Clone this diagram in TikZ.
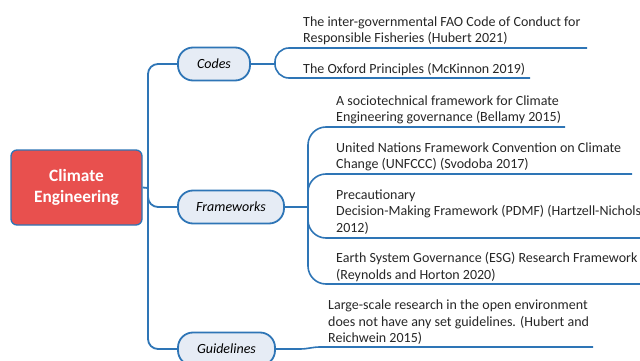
\documentclass[tikz,border=0pt]{standalone}
\usepackage{fontspec}
\setmainfont{Carlito}
\definecolor{lineblue}{HTML}{2E75B6}
\definecolor{nodefill}{HTML}{E6ECF5}
\definecolor{cered}{HTML}{E8504E}
\begin{document}
\begin{tikzpicture}[x=1pt,y=-1pt,
  conn/.style={draw=lineblue,line width=1.8pt},
  branch/.style={draw=lineblue,line width=1.6pt,rounded corners=18pt},
  catbox/.style={draw=lineblue,line width=1.8pt,fill=nodefill,rounded corners=15pt,
    minimum height=33pt,inner sep=0pt,font=\fontsize{14}{16}\selectfont\itshape},
  leaf/.style={anchor=north west,inner sep=0pt,align=left,text=black!85,
    font=\fontsize{14}{16.5}\selectfont}]
\useasboundingbox (0,0) rectangle (640,361);
\node[draw=lineblue,line width=1.3pt,fill=cered,rounded corners=6pt,
  minimum width=131pt,minimum height=75pt,align=center,text=white,
  font=\fontsize{17.3}{21.5}\selectfont\bfseries] (ce) at (76.5,187.5) {Climate\\Engineering};
\node[catbox,minimum width=72pt] (codes) at (214,64) {Codes};
\node[catbox,minimum width=106pt] (fw) at (231,207) {Frameworks};
\node[catbox,minimum width=97pt] (gl) at (226.5,349) {Guidelines};
\coordinate (trunk) at (148,188);
\draw[conn] (ce.east) -- (trunk);
\draw[conn,rounded corners=10pt] (trunk) |- (codes.west);
\draw[conn,rounded corners=10pt] (trunk) |- (fw.west);
\draw[conn,rounded corners=10pt] (trunk) |- (gl.west);
% codes branches
\coordinate (cf) at (275,64);
\draw[conn] (codes.east) -- (cf);
\coordinate (c1e) at (587,48);
\coordinate (c2e) at (530,78);
\draw[branch,rounded corners=14pt] (cf) |- (c1e);
\draw[branch,rounded corners=14pt] (cf) |- (c2e);
\node[leaf] (c1) at (303,16.5) {The inter-governmental FAO Code of Conduct for\\Responsible Fisheries (Hubert 2021)};
\node[leaf] (c2) at (303,63.5) {The Oxford Principles (McKinnon 2019)};
% frameworks branches
\coordinate (ff) at (308,207);
\draw[conn] (fw.east) -- (ff);
\coordinate (f1e) at (565,127);
\coordinate (f2e) at (632,174);
\coordinate (f3e) at (642,238);
\coordinate (f4e) at (642,284);
\draw[branch] (ff) |- (f1e);
\draw[branch] (ff) |- (f2e);
\draw[branch] (ff) |- (f3e);
\draw[branch] (ff) |- (f4e);
\node[leaf] (f1) at (336,95.5) {A sociotechnical framework for Climate\\Engineering governance (Bellamy 2015)};
\node[leaf] (f2) at (336,142.5) {United Nations Framework Convention on Climate\\Change (UNFCCC) (Svodoba 2017)};
\node[leaf] (f3) at (336,189.5) {Precautionary\\Decision-Making Framework (PDMF) (Hartzell-Nichols\\2012)};
\node[leaf] (f4) at (336,252.5) {Earth System Governance (ESG) Research Framework\\(Reynolds and Horton 2020)};
% guidelines
\coordinate (gm) at (300,349);
\coordinate (ge) at (593,347);
\draw[conn,line width=1.6pt] (gl.east) -- (gm) to[out=0,in=180] (320,347) -- (ge);
\node[leaf] (g1) at (328,300) {Large-scale research in the open environment\\does not have any set guidelines. (Hubert and\\Reichwein 2015)};
\end{tikzpicture}
\end{document}
